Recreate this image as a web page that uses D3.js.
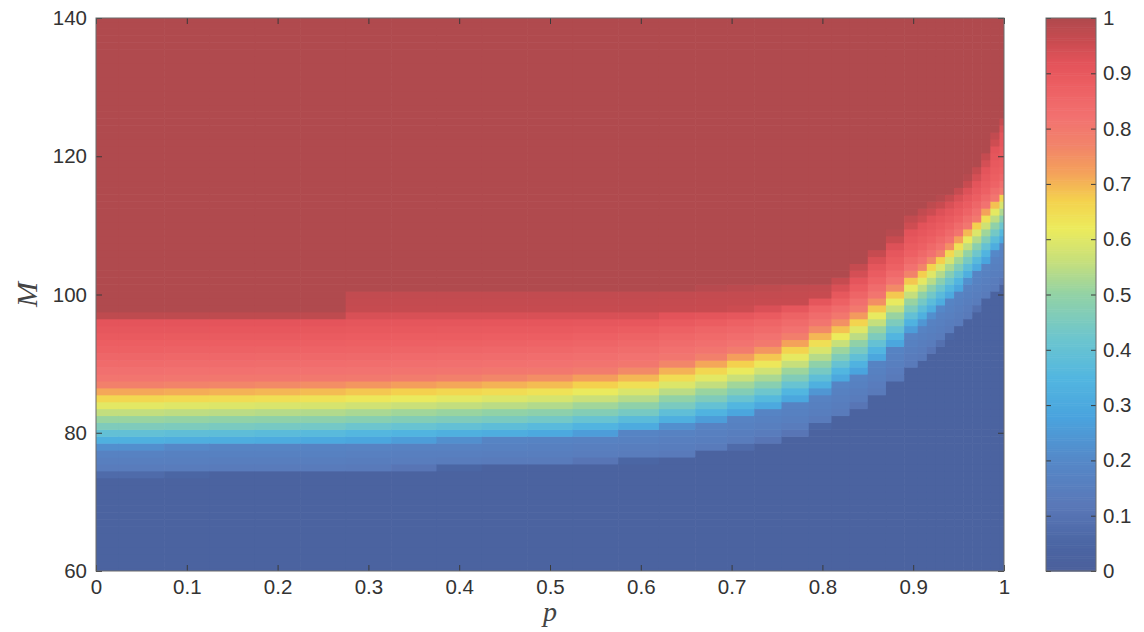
<!DOCTYPE html>
<html><head><meta charset="utf-8">
<script src="https://cdn.jsdelivr.net/npm/d3@7"></script>
<style>body{margin:0;background:#fff}</style>
</head><body>
<svg id="c" width="1144" height="632"></svg>
<script>
// ---- data ----
// p columns of the grid (finer where the transition bends)
const pCols = [0,0.05,0.1,0.15,0.2,0.25,0.3,0.35,0.4,0.45,0.5,0.55,0.6,0.64,0.68,0.71,0.74,0.77,0.8,0.82,0.84,0.86,0.88,0.9,0.91,0.92,0.93,0.94,0.95,0.96,0.97,0.98,0.99,1.0];
// M rows of the grid
const mRows = d3.range(60, 141);
// value levels, and for each level the M where each p column reaches it
const levels = [0.03,0.13,0.18,0.28,0.45,0.6,0.72,0.8,0.87,0.92,0.96,0.97,1.0];
const m03 = [73.8,73.8,73.9,74.0,74.1,74.2,74.4,74.6,74.9,75.1,75.3,75.6,75.9,76.4,77.1,77.8,78.6,79.6,80.9,82.2,83.6,85.4,87.4,89.4,90.5,91.6,92.7,93.9,95.1,96.4,97.7,99.1,100.4,101.6];
const m13 = [74.3,74.3,74.4,74.5,74.6,74.7,74.9,75.1,75.4,75.6,75.8,76.1,76.4,76.9,77.6,78.3,79.1,80.1,81.4,82.7,84.1,85.9,87.9,89.9,91.0,92.1,93.2,94.4,95.6,96.9,98.2,99.6,100.9,102.1];
const m18 = [77.8,77.8,77.9,78.0,78.1,78.2,78.4,78.6,78.8,79.0,79.2,79.6,80.1,80.8,81.6,82.4,83.2,84.3,85.7,87.2,88.5,90.3,92.3,94.6,95.7,96.8,97.9,99.1,100.3,101.8,103.1,104.5,105.9,107.2];
const m28 = [78.3,78.3,78.4,78.5,78.6,78.7,78.9,79.1,79.3,79.5,79.7,80.1,80.6,81.3,82.1,82.9,83.7,84.8,86.2,87.7,89.0,90.8,92.8,95.1,96.2,97.3,98.4,99.6,100.8,102.3,103.6,105.0,106.4,107.7];
const m45 = [80.8,80.8,80.9,81.0,81.1,81.2,81.4,81.6,81.8,82.0,82.2,82.6,83.1,84.0,84.8,85.6,86.4,87.7,89.1,90.8,92.1,93.9,95.9,97.9,99.2,100.3,101.4,102.6,103.8,105.1,106.4,107.8,109.2,110.5];
const m60 = [83.9,83.9,84.0,84.1,84.2,84.3,84.5,84.7,84.9,85.1,85.3,85.7,86.2,87.1,87.9,88.7,89.5,90.8,92.2,93.7,95.0,96.8,98.8,100.8,101.9,103.0,104.1,105.3,106.5,107.8,109.1,110.5,111.9,113.2];
const m72 = [86.1,86.1,86.2,86.3,86.4,86.5,86.7,86.9,87.1,87.3,87.5,87.9,88.4,89.3,90.1,90.9,91.7,93.0,94.4,95.5,96.8,98.6,100.6,102.6,103.7,104.8,105.6,106.8,108.0,109.3,110.6,112.0,113.4,114.7];
const m80 = [87.3,87.3,87.4,87.5,87.6,87.7,87.9,88.1,88.3,88.5,88.7,89.1,89.6,90.5,91.3,92.1,92.9,94.2,95.6,96.8,98.0,99.6,101.4,103.2,104.2,105.2,106.2,107.3,108.5,109.7,111.0,112.3,113.7,115.0];
const m87 = [92.0,92.0,92.1,92.2,92.3,92.4,92.6,92.8,93.0,93.2,93.4,93.8,94.3,95.0,95.6,96.0,96.5,97.2,98.2,99.0,100.4,102.2,104.0,105.8,106.8,107.8,108.8,109.9,111.0,112.2,113.5,114.8,116.2,117.5];
const m92 = [96.3,96.3,96.3,96.3,96.3,96.3,96.8,96.8,96.8,96.8,96.8,96.8,96.8,97.0,97.2,97.4,97.8,98.3,99.2,100.5,102.3,104.5,106.7,109.0,110.0,110.9,111.7,112.5,113.5,114.7,116.3,118.3,121.0,123.5];
const m96 = [96.8,96.8,96.8,96.8,96.8,96.8,97.3,97.3,97.3,97.3,97.3,97.3,97.3,97.6,97.9,98.1,98.4,98.8,99.7,101.8,103.6,105.8,108.0,110.3,111.3,112.2,113.0,113.8,114.8,116.0,117.6,119.6,122.3,124.8];
const m97 = [96.9,96.9,96.9,96.9,96.9,96.9,100.0,100.0,100.0,100.0,100.0,100.0,100.0,100.5,100.7,100.8,100.9,101.0,101.3,102.5,104.3,106.5,108.7,111.0,112.0,112.9,113.7,114.5,115.5,116.7,118.3,120.3,123.0,125.5];
const m100 = [97.3,97.3,97.3,97.3,97.3,97.3,100.5,100.5,100.5,100.5,100.5,100.5,100.5,101.0,101.2,101.3,101.4,101.5,101.8,103.0,104.8,107.0,109.2,111.5,112.5,113.4,114.2,115.0,116.0,117.2,118.8,120.8,123.5,126.0];

const xTicks = [0,0.1,0.2,0.3,0.4,0.5,0.6,0.7,0.8,0.9,1];
const yTicks = [60,80,100,120,140];
const cTicks = [0,0.1,0.2,0.3,0.4,0.5,0.6,0.7,0.8,0.9,1];
const xTickLabels = ["0","0.1","0.2","0.3","0.4","0.5","0.6","0.7","0.8","0.9","1"];
const cTickLabels = ["0","0.1","0.2","0.3","0.4","0.5","0.6","0.7","0.8","0.9","1"];
// colormap (printed jet)
const cmapStops = [0,0.05,0.12,0.2,0.28,0.35,0.42,0.5,0.56,0.62,0.67,0.72,0.77,0.82,0.88,0.92,0.96,1.0];
const cmapColors = ["#4b5f9b","#4b66a4","#5a78b8","#5588c8","#4aa4de","#52b6e0","#6cc5cf","#92d2a6","#c6df7c","#eceb5c","#f4d24e","#f4a25a","#f2846a","#f27270","#ec5e62","#e3535a","#c84b50","#b04a4e"];

// ---- drawing ----
const svg = d3.select("#c");
const plot = {l:96, r:1004, t:18, b:571};
const cb = {l:1046, r:1096, t:18, b:571};
const x = d3.scaleLinear().domain([0,1]).range([plot.l, plot.r]);
const y = d3.scaleLinear().domain([60,140]).range([plot.b, plot.t]);
const cy = d3.scaleLinear().domain([0,1]).range([cb.b, cb.t]);
const color = d3.scaleLinear().domain(cmapStops).range(cmapColors).interpolate(d3.interpolateRgb).clamp(true);
const crossings = [m03,m13,m18,m28,m45,m60,m72,m80,m87,m92,m96,m97,m100];

function valueAt(ci, M){
  const ms = crossings.map(a => a[ci]);
  if (M <= ms[0]) return levels[0];
  if (M >= ms[ms.length-1]) return levels[levels.length-1];
  for (let k = 1; k < ms.length; k++){
    if (M <= ms[k]){
      const t = (M - ms[k-1]) / (ms[k] - ms[k-1]);
      return levels[k-1] + t*(levels[k]-levels[k-1]);
    }
  }
  return 1;
}

const cells = [];
pCols.forEach((p,i) => {
  const p0 = i === 0 ? 0 : (pCols[i-1]+p)/2;
  const p1 = i === pCols.length-1 ? 1 : (p+pCols[i+1])/2;
  mRows.forEach(M => {
    cells.push({p0, p1, M0: Math.max(60, M-0.5), M1: Math.min(140, M+0.5), v: valueAt(i, M)});
  });
});

svg.append("defs").append("clipPath").attr("id","clip")
  .append("rect").attr("x",plot.l).attr("y",plot.t).attr("width",plot.r-plot.l).attr("height",plot.b-plot.t);

svg.append("g").attr("clip-path","url(#clip)")
  .selectAll("rect").data(cells).join("rect")
  .attr("x", d => x(d.p0))
  .attr("y", d => y(d.M1))
  .attr("width", d => x(d.p1)-x(d.p0)+0.6)
  .attr("height", d => y(d.M0)-y(d.M1)+0.6)
  .attr("fill", d => color(d.v));

const font = "'Liberation Sans', Arial, Helvetica, sans-serif";
const tickCol = "#3a3a3a";

// axes
const gx = svg.append("g").attr("transform",`translate(0,${plot.b})`)
  .call(d3.axisBottom(x).tickValues(xTicks).tickFormat((d,i)=>xTickLabels[i]).tickSizeInner(-6).tickSizeOuter(0).tickPadding(8));
const gxt = svg.append("g").attr("transform",`translate(0,${plot.t})`)
  .call(d3.axisTop(x).tickValues(xTicks).tickFormat("").tickSizeInner(-6).tickSizeOuter(0));
const gy = svg.append("g").attr("transform",`translate(${plot.l},0)`)
  .call(d3.axisLeft(y).tickValues(yTicks).tickSizeInner(-6).tickSizeOuter(0).tickPadding(9));
const gyr = svg.append("g").attr("transform",`translate(${plot.r},0)`)
  .call(d3.axisRight(y).tickValues(yTicks).tickFormat("").tickSizeInner(-6).tickSizeOuter(0));
[gx,gxt,gy,gyr].forEach(g => {
  g.select(".domain").remove();
  g.selectAll("line").attr("stroke",tickCol).attr("stroke-width",1);
  g.selectAll("text").attr("font-family",font).attr("font-size",20.5).attr("fill","#333");
});
svg.append("rect").attr("x",plot.l).attr("y",plot.t).attr("width",plot.r-plot.l).attr("height",plot.b-plot.t)
  .attr("fill","none").attr("stroke","#6a6a6a").attr("stroke-width",1);

// axis labels
svg.append("text").attr("x", (plot.l+plot.r)/2).attr("y", 621).attr("text-anchor","middle")
  .attr("font-family","'Liberation Serif','DejaVu Serif',serif").attr("font-style","italic").attr("font-size",28).attr("fill","#444").text("p");
svg.append("text").attr("transform",`translate(37,${y(100)}) rotate(-90)`).attr("text-anchor","middle")
  .attr("font-family","'Liberation Serif','DejaVu Serif',serif").attr("font-style","italic").attr("font-size",30).attr("fill","#444").text("M");

// colorbar
const nSlices = 300;
const slices = d3.range(nSlices).map(i => i/nSlices);
svg.append("g").selectAll("rect").data(slices).join("rect")
  .attr("x", cb.l).attr("width", cb.r-cb.l)
  .attr("y", d => cy(d + 1/nSlices))
  .attr("height", d => cy(d) - cy(d+1/nSlices) + 0.6)
  .attr("fill", d => color(d + 0.5/nSlices));
const gc = svg.append("g").attr("transform",`translate(${cb.r},0)`)
  .call(d3.axisRight(cy).tickValues(cTicks).tickFormat((d,i)=>cTickLabels[i]).tickSizeInner(-5).tickSizeOuter(0).tickPadding(7));
const gcl = svg.append("g").attr("transform",`translate(${cb.l},0)`)
  .call(d3.axisLeft(cy).tickValues(cTicks).tickFormat("").tickSizeInner(-5).tickSizeOuter(0));
[gc,gcl].forEach(g => {
  g.select(".domain").remove();
  g.selectAll("line").attr("stroke",tickCol).attr("stroke-width",1);
  g.selectAll("text").attr("font-family",font).attr("font-size",20.5).attr("fill","#333");
});
svg.append("rect").attr("x",cb.l).attr("y",cb.t).attr("width",cb.r-cb.l).attr("height",cb.b-cb.t)
  .attr("fill","none").attr("stroke","#6a6a6a").attr("stroke-width",1);
</script>
</body></html>
